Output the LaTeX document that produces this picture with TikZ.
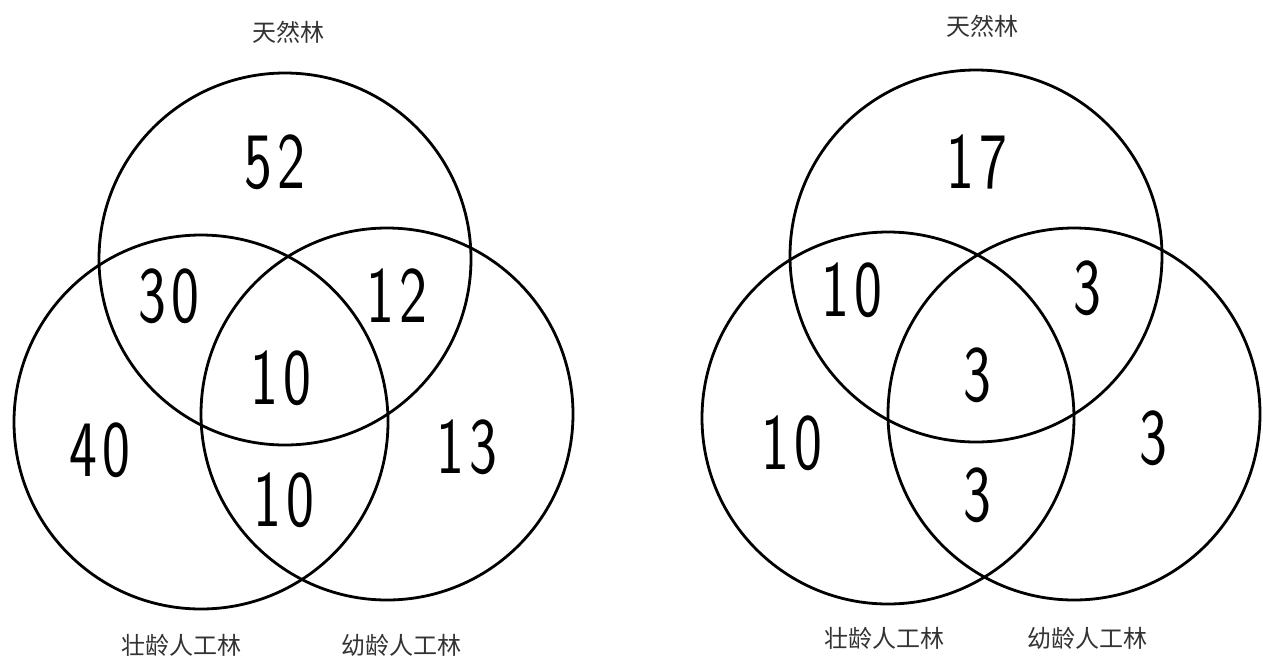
\documentclass[tikz,border=0pt]{standalone}
\usepackage{fontspec}
\newfontfamily\cjk{Noto Sans CJK SC}
\begin{document}
\begin{tikzpicture}[x=1pt,y=-1pt,
  ring/.style={draw=black, line width=2.8pt},
  num/.style={inner sep=0pt, font=\fontsize{80}{80}\selectfont\sffamily, xscale=0.74},
  lab/.style={inner sep=0pt, font=\cjk\fontsize{24}{24}\selectfont, text=black!80}]
\fill[white] (0,0) rectangle (1263,657);
\useasboundingbox (0,0) rectangle (1263,657);
% left diagram
\draw[ring] (285,259) circle[radius=186pt];
\draw[ring] (201,422) circle[radius=187pt];
\draw[ring] (387,414) circle[radius=186pt];
\node[lab] (lt) at (288,32) {天然林};
\node[lab] (lbl) at (181,645) {壮龄人工林};
\node[lab] (lbr) at (401,645) {幼龄人工林};
\node[num] (l52) at (275,162) {5\kern8pt 2};
\node[num] (l30) at (169,296) {3\kern8pt 0};
\node[num] (l12) at (397,296) {1\kern8pt 2};
\node[num] (l10a) at (281,378) {1\kern8pt 0};
\node[num] (l40) at (100,450) {4\kern8pt 0};
\node[num] (l10b) at (284,500) {1\kern8pt 0};
\node[num] (l13) at (467,447) {1\kern8pt 3};
% right diagram
\draw[ring] (976,256) circle[radius=186pt];
\draw[ring] (888,418) circle[radius=186pt];
\draw[ring] (1074,414) circle[radius=186pt];
\node[lab] (rt) at (982,26) {天然林};
\node[lab] (rbl) at (884,638) {壮龄人工林};
\node[lab] (rbr) at (1087,638) {幼龄人工林};
\node[num] (r17) at (977,162) {1\kern8pt 7};
\node[num] (r10a) at (852,290) {1\kern8pt 0};
\node[num] (r3a) at (1087,288) {3};
\node[num] (r3b) at (977,375) {3};
\node[num] (r10b) at (792,443) {1\kern8pt 0};
\node[num] (r3c) at (977,495) {3};
\node[num] (r3d) at (1153,438) {3};
\end{tikzpicture}
\end{document}
